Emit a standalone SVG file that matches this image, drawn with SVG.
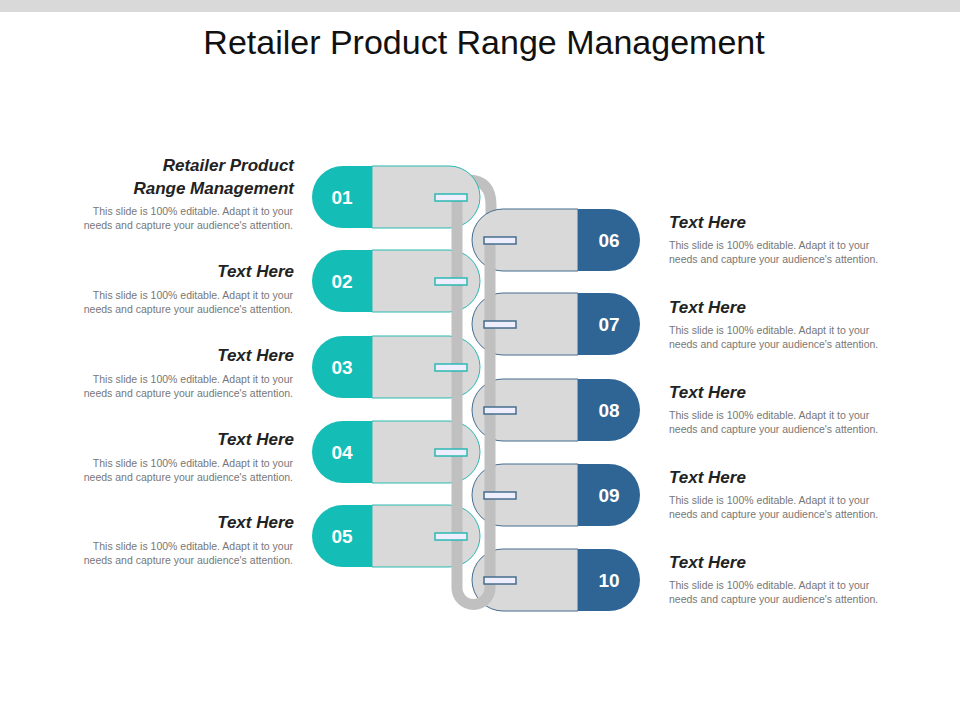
<svg xmlns="http://www.w3.org/2000/svg" width="960" height="720" viewBox="0 0 960 720">
<style>
text{font-family:"Liberation Sans",Arial,sans-serif}
.h{font-size:17px;font-weight:bold;font-style:italic;fill:#222}
.d{font-size:10.5px;fill:#777}
.n{font-size:19px;font-weight:bold;fill:#fff}
.g{fill:#d9d9d9}
.rod{fill:none;stroke:#c0c0c0;stroke-width:11}
.sl{fill:#eef;stroke:#2bb9b2;stroke-width:1.5}
.sr{fill:#eef;stroke:#476d8f;stroke-width:1.5}
</style>
<rect x="0" y="0" width="960" height="12" fill="#d9d9d9"/>
<text x="484" y="54" text-anchor="middle" font-size="34" fill="#111">Retailer Product Range Management</text>
<g id="connectors"><path class="rod" d="M468,180 Q491,180 491,205 V240"/></g>
<g id="left">
<g id="n01" transform="translate(0,197)"><path class="g" d="M372,-31 H449 A31,31 0 0 1 449,31 H372 Z" stroke="#2bb9b2"/><path d="M343,-31 H372 V31 H343 A31,31 0 0 1 343,-31 Z" fill="#14bdb5"/><text class="n" x="342" y="7" text-anchor="middle">01</text></g>
<g id="n02" transform="translate(0,281)"><path class="g" d="M372,-31 H449 A31,31 0 0 1 449,31 H372 Z" stroke="#2bb9b2"/><path d="M343,-31 H372 V31 H343 A31,31 0 0 1 343,-31 Z" fill="#14bdb5"/><text class="n" x="342" y="7" text-anchor="middle">02</text></g>
<g id="n03" transform="translate(0,367)"><path class="g" d="M372,-31 H449 A31,31 0 0 1 449,31 H372 Z" stroke="#2bb9b2"/><path d="M343,-31 H372 V31 H343 A31,31 0 0 1 343,-31 Z" fill="#14bdb5"/><text class="n" x="342" y="7" text-anchor="middle">03</text></g>
<g id="n04" transform="translate(0,452)"><path class="g" d="M372,-31 H449 A31,31 0 0 1 449,31 H372 Z" stroke="#2bb9b2"/><path d="M343,-31 H372 V31 H343 A31,31 0 0 1 343,-31 Z" fill="#14bdb5"/><text class="n" x="342" y="7" text-anchor="middle">04</text></g>
<g id="n05" transform="translate(0,536)"><path class="g" d="M372,-31 H449 A31,31 0 0 1 449,31 H372 Z" stroke="#2bb9b2"/><path d="M343,-31 H372 V31 H343 A31,31 0 0 1 343,-31 Z" fill="#14bdb5"/><text class="n" x="342" y="7" text-anchor="middle">05</text></g>
</g>
<g id="right">
<g id="n06" transform="translate(0,240)"><path class="g" d="M578,-31 H503 A31,31 0 0 0 503,31 H578 Z" stroke="#476d8f"/><path d="M578,-31 H609 A31,31 0 0 1 609,31 H578 Z" fill="#2e6595"/><text class="n" x="609" y="7" text-anchor="middle">06</text></g>
<g id="n07" transform="translate(0,324)"><path class="g" d="M578,-31 H503 A31,31 0 0 0 503,31 H578 Z" stroke="#476d8f"/><path d="M578,-31 H609 A31,31 0 0 1 609,31 H578 Z" fill="#2e6595"/><text class="n" x="609" y="7" text-anchor="middle">07</text></g>
<g id="n08" transform="translate(0,410)"><path class="g" d="M578,-31 H503 A31,31 0 0 0 503,31 H578 Z" stroke="#476d8f"/><path d="M578,-31 H609 A31,31 0 0 1 609,31 H578 Z" fill="#2e6595"/><text class="n" x="609" y="7" text-anchor="middle">08</text></g>
<g id="n09" transform="translate(0,495)"><path class="g" d="M578,-31 H503 A31,31 0 0 0 503,31 H578 Z" stroke="#476d8f"/><path d="M578,-31 H609 A31,31 0 0 1 609,31 H578 Z" fill="#2e6595"/><text class="n" x="609" y="7" text-anchor="middle">09</text></g>
<g id="n10" transform="translate(0,580)"><path class="g" d="M578,-31 H503 A31,31 0 0 0 503,31 H578 Z" stroke="#476d8f"/><path d="M578,-31 H609 A31,31 0 0 1 609,31 H578 Z" fill="#2e6595"/><text class="n" x="609" y="7" text-anchor="middle">10</text></g>
</g>
<g id="chain">
<path class="rod" d="M457,200 V588 A16.5,16.5 0 0 0 490,588 V240"/>
<rect class="sl" x="435" y="194" width="32" height="7"/>
<rect class="sl" x="435" y="278" width="32" height="7"/>
<rect class="sl" x="435" y="364" width="32" height="7"/>
<rect class="sl" x="435" y="449" width="32" height="7"/>
<rect class="sl" x="435" y="533" width="32" height="7"/>
<rect class="sr" x="484" y="237" width="32" height="7"/>
<rect class="sr" x="484" y="321" width="32" height="7"/>
<rect class="sr" x="484" y="407" width="32" height="7"/>
<rect class="sr" x="484" y="492" width="32" height="7"/>
<rect class="sr" x="484" y="577" width="32" height="7"/>
</g>
<g id="labels-left" text-anchor="end">
<text class="h" x="294" y="171">Retailer Product</text><text class="h" x="294" y="194">Range Management</text>
<text class="d" x="293" y="215">This slide is 100% editable. Adapt it to your</text><text class="d" x="293" y="229">needs and capture your audience's attention.</text>
<text class="h" x="294" y="277">Text Here</text>
<text class="d" x="293" y="299">This slide is 100% editable. Adapt it to your</text><text class="d" x="293" y="313">needs and capture your audience's attention.</text>
<text class="h" x="294" y="361">Text Here</text>
<text class="d" x="293" y="383">This slide is 100% editable. Adapt it to your</text><text class="d" x="293" y="397">needs and capture your audience's attention.</text>
<text class="h" x="294" y="445">Text Here</text>
<text class="d" x="293" y="467">This slide is 100% editable. Adapt it to your</text><text class="d" x="293" y="481">needs and capture your audience's attention.</text>
<text class="h" x="294" y="528">Text Here</text>
<text class="d" x="293" y="550">This slide is 100% editable. Adapt it to your</text><text class="d" x="293" y="564">needs and capture your audience's attention.</text>
</g>
<g id="labels-right">
<text class="h" x="669" y="228">Text Here</text>
<text class="d" x="669" y="249">This slide is 100% editable. Adapt it to your</text><text class="d" x="669" y="263">needs and capture your audience's attention.</text>
<text class="h" x="669" y="313">Text Here</text>
<text class="d" x="669" y="334">This slide is 100% editable. Adapt it to your</text><text class="d" x="669" y="348">needs and capture your audience's attention.</text>
<text class="h" x="669" y="398">Text Here</text>
<text class="d" x="669" y="419">This slide is 100% editable. Adapt it to your</text><text class="d" x="669" y="433">needs and capture your audience's attention.</text>
<text class="h" x="669" y="483">Text Here</text>
<text class="d" x="669" y="504">This slide is 100% editable. Adapt it to your</text><text class="d" x="669" y="518">needs and capture your audience's attention.</text>
<text class="h" x="669" y="568">Text Here</text>
<text class="d" x="669" y="589">This slide is 100% editable. Adapt it to your</text><text class="d" x="669" y="603">needs and capture your audience's attention.</text>
</g>
</svg>
